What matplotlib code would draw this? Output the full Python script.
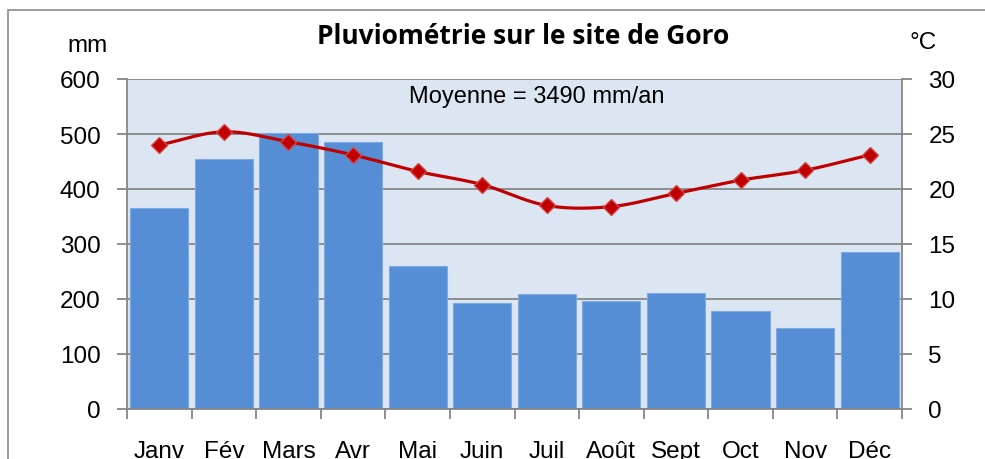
import numpy as np
import matplotlib.pyplot as plt
from matplotlib.patches import Rectangle

months = ["Janv", "Fév", "Mars", "Avr", "Mai", "Juin", "Juil", "Août", "Sept", "Oct", "Nov", "Déc"]
rain_mm = [365, 455, 502, 485, 260, 192, 209, 196, 211, 178, 148, 285]
temp_c = [24.0, 25.2, 24.3, 23.1, 21.6, 20.4, 18.5, 18.4, 19.6, 20.8, 21.7, 23.1]


def smooth(x, y, n=20):
    # Catmull-Rom curve through the points, like Excel's smoothed line
    x = np.asarray(x, float)
    y = np.asarray(y, float)
    px = np.concatenate([[2 * x[0] - x[1]], x, [2 * x[-1] - x[-2]]])
    py = np.concatenate([[2 * y[0] - y[1]], y, [2 * y[-1] - y[-2]]])
    xs, ys = [], []
    t = np.linspace(0, 1, n, endpoint=False)
    for i in range(1, len(px) - 2):
        for p, out in ((px, xs), (py, ys)):
            p0, p1, p2, p3 = p[i - 1], p[i], p[i + 1], p[i + 2]
            out.extend(0.5 * ((2 * p1) + (-p0 + p2) * t
                              + (2 * p0 - 5 * p1 + 4 * p2 - p3) * t ** 2
                              + (-p0 + 3 * p1 - 3 * p2 + p3) * t ** 3))
    xs.append(x[-1])
    ys.append(y[-1])
    return np.array(xs), np.array(ys)


plt.rcParams['font.family'] = ['Liberation Sans', 'DejaVu Sans']
grey = "#868686"
fs = 17.5

fig = plt.figure(figsize=(9.85, 4.6), dpi=100)
fig.patches.append(Rectangle((8 / 985, -0.1), 1.2, 1 - 11 / 460 + 0.1,
                             transform=fig.transFigure, fill=False,
                             edgecolor="#8c8c8c", lw=1.2))

ax = fig.add_axes([127 / 985, 50 / 460, 775 / 985, 330 / 460])
ax.set_facecolor("#DCE6F2")
x = np.arange(len(months))
ax.bar(x, rain_mm, width=0.9, color="#558ED5", edgecolor="#7EA9E1", linewidth=0.8, zorder=2)
ax.set_xlim(-0.5, 11.5)
ax.set_ylim(0, 600)
ax.set_yticks(range(0, 601, 100))
ax.yaxis.grid(True, color=grey, lw=1.3, zorder=1)
ax.set_axisbelow(True)
ax.set_xticks(x)
ax.set_xticklabels(months)
ax.set_xticks(np.arange(-0.5, 12, 1), minor=True)
ax.tick_params(axis="x", which="major", length=0, pad=22, labelsize=fs)
ax.tick_params(axis="x", which="minor", length=7, width=1.3, color=grey)
ax.tick_params(axis="y", length=7, width=1.3, color=grey, labelsize=fs, pad=12)
for s in ["top", "right"]:
    ax.spines[s].set_visible(False)
for s in ["left", "bottom"]:
    ax.spines[s].set_color(grey)
    ax.spines[s].set_linewidth(1.3)

ax2 = ax.twinx()
ax2.set_ylim(0, 30)
ax2.set_yticks(range(0, 31, 5))
ax2.tick_params(axis="y", length=7, width=1.3, color=grey, labelsize=fs, pad=12)
for s in ["top", "left", "bottom"]:
    ax2.spines[s].set_visible(False)
ax2.spines["right"].set_color(grey)
ax2.spines["right"].set_linewidth(1.3)
sx, sy = smooth(x, temp_c)
ax2.plot(sx, sy, color="#C00000", lw=2.3, zorder=3)
ax2.plot(x, temp_c, ls="none", marker="D", ms=8, color="#C00000",
         markeredgecolor="#D24545", markeredgewidth=1, zorder=4)

fig.text(537 / 985, 1 - 97 / 460, "Moyenne = 3490 mm/an",
         ha="center", va="center", fontsize=17)
fig.text(523 / 985, 1 - 37 / 460, "Pluviométrie sur le site de Goro",
         ha="center", va="center", fontsize=19, fontweight="bold",
         family=["Open Sans", "DejaVu Sans"])
fig.text(88 / 985, 1 - 46 / 460, "mm", ha="center", va="center", fontsize=fs)
fig.text(923 / 985, 1 - 43 / 460, "°C", ha="center", va="center", fontsize=fs)

fig.savefig("out.png", dpi=100)
